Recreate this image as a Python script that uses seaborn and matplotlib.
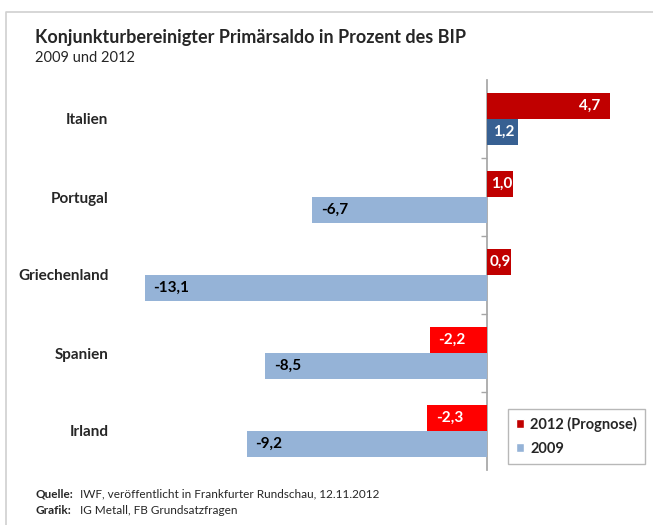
import pandas as pd
import seaborn as sns
import matplotlib.pyplot as plt
from matplotlib.lines import Line2D
from matplotlib.patches import Patch

# data
countries = ["Italien", "Portugal", "Griechenland", "Spanien", "Irland"]
values_2012 = [4.7, 1.0, 0.9, -2.2, -2.3]
values_2009 = [1.2, -6.7, -13.1, -8.5, -9.2]
series_names = ["2012 (Prognose)", "2009"]

colors_2012 = ["#C00000", "#C00000", "#C00000", "#FF0000", "#FF0000"]
colors_2009 = ["#376092", "#95B3D7", "#95B3D7", "#95B3D7", "#95B3D7"]
text_2009 = ["white", "black", "black", "black", "black"]

df = pd.DataFrame({
    "Land": countries * 2,
    "Serie": [series_names[0]] * len(countries) + [series_names[1]] * len(countries),
    "Wert": values_2012 + values_2009,
})

sns.set_theme(style="white")
plt.rcParams["font.family"] = ["Lato", "DejaVu Sans"]

fig = plt.figure(figsize=(6.53, 5.25), dpi=100)
ax = fig.add_axes([121 / 653, 55 / 525, 523 / 653, 390 / 525])

sns.barplot(data=df, x="Wert", y="Land", hue="Serie", order=countries,
            hue_order=series_names, orient="h", width=0.667, dodge=True,
            palette=["#C00000", "#95B3D7"], ax=ax, legend=False)

ax.set_xlim(-14, 6)
ax.set_ylim(4.5, -0.5)
for s in ax.spines.values():
    s.set_visible(False)
ax.set_xticks([])
ax.set_xlabel("")
ax.set_ylabel("")
ax.tick_params(axis="y", length=0, pad=9)
ax.set_yticks(range(len(countries)), countries, fontsize=11, fontweight="bold")

# recolour bars and add value labels
for cont, cols, tcols in zip(ax.containers,
                             [colors_2012, colors_2009],
                             [["white"] * 5, text_2009]):
    for bar, c, tc in zip(cont.patches, cols, tcols):
        bar.set_facecolor(c)
        bar.set_edgecolor("none")
        w = bar.get_width()
        y = bar.get_y() + bar.get_height() / 2
        lab = f"{w:.1f}".replace(".", ",")
        kw = dict(va="center", color=tc, fontsize=11, fontweight="bold",
                  textcoords="offset points")
        if w >= 2:
            ax.annotate(lab, (w, y), xytext=(-7, 0), ha="right", **kw)
        elif w >= 0:
            ax.annotate(lab, (w / 2, y), xytext=(1, 0), ha="center", **kw)
        else:
            ax.annotate(lab, (w, y), xytext=(6.5, 0), ha="left", **kw)

# category axis at zero
zero = ax.secondary_yaxis((0 - ax.get_xlim()[0]) / (ax.get_xlim()[1] - ax.get_xlim()[0]))
zero.set_alignment("left")
for s in zero.spines.values():
    s.set_color("#A6A6A6")
zero.set_yticks([0.5, 1.5, 2.5, 3.5], ["", "", "", ""])
zero.tick_params(axis="y", length=4, color="#A6A6A6", direction="out", width=1)

handles = [Patch(facecolor="#C00000"), Patch(facecolor="#95B3D7")]
leg = fig.legend(handles, series_names, loc="lower right",
                 bbox_to_anchor=(645 / 653, 61 / 525), bbox_transform=fig.transFigure,
                 frameon=True, fancybox=False, borderaxespad=0,
                 handlelength=0.6, handleheight=0.6, handletextpad=0.4,
                 prop={"weight": "bold", "size": 10.5}, labelspacing=0.7,
                 borderpad=0.55)
leg.get_frame().set_edgecolor("#A6A6A6")
leg.get_frame().set_linewidth(1)

# titles and source
fig.text(35 / 653, 1 - 38 / 525, "Konjunkturbereinigter Primärsaldo in Prozent des BIP",
         fontsize=13, fontweight="bold", va="center", ha="left")
fig.text(35 / 653, 1 - 58 / 525, "2009 und 2012", fontsize=10.5, va="center", ha="left")
fig.text(35 / 653, 1 - 494 / 525, "Quelle:", fontsize=8.5, fontweight="bold", va="center")
fig.text(80 / 653, 1 - 494 / 525, "IWF, veröffentlicht in Frankfurter Rundschau, 12.11.2012",
         fontsize=8.5, va="center")
fig.text(35 / 653, 1 - 510 / 525, "Grafik:", fontsize=8.5, fontweight="bold", va="center")
fig.text(80 / 653, 1 - 510 / 525, "IG Metall, FB Grundsatzfragen", fontsize=8.5, va="center")

# outer frame (left and top edge)
fig.add_artist(Line2D([6 / 653, 6 / 653, 1], [0, 1 - 12 / 525, 1 - 12 / 525],
                      transform=fig.transFigure, color="#D0D0D0", lw=1.2))

fig.savefig("out.png", dpi=100)
